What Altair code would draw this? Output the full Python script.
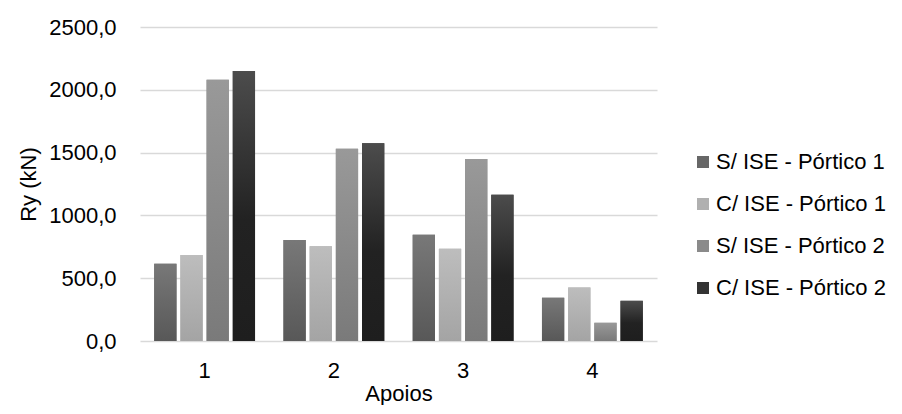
import altair as alt
import pandas as pd

apoios = ["1", "2", "3", "4"]
series = ["S/ ISE - Pórtico 1", "C/ ISE - Pórtico 1", "S/ ISE - Pórtico 2", "C/ ISE - Pórtico 2"]
s_ise_p1 = [615, 805, 845, 345]
c_ise_p1 = [685, 755, 735, 425]
s_ise_p2 = [2080, 1530, 1450, 145]
c_ise_p2 = [2150, 1575, 1165, 320]
y_ticks = [0, 500, 1000, 1500, 2000, 2500]

legend_colors = ["#676767", "#b0b0b0", "#8a8a8a", "#333333"]
grad_stops = [
    [(0, "#787878"), (1, "#585858")],
    [(0, "#bdbdbd"), (1, "#a4a4a4")],
    [(0, "#999999"), (1, "#7a7a7a")],
    [(0, "#4c4c4c"), (0.55, "#222222"), (1, "#1e1e1e")],
]

rows = []
for name, vals in zip(series, [s_ise_p1, c_ise_p1, s_ise_p2, c_ise_p2]):
    for a, v in zip(apoios, vals):
        rows.append({"Apoio": a, "Serie": name, "Ry": v})
df = pd.DataFrame(rows)

FONT = "Liberation Sans"

x_enc = alt.X(
    "Apoio:N",
    sort=apoios,
    scale=alt.Scale(domain=apoios, paddingInner=0.22, paddingOuter=0.11),
    axis=alt.Axis(title="Apoios", labelAngle=0, grid=False, labelPadding=19,
                  titleY=59, titleBaseline="alphabetic"),
)
xoff_enc = alt.XOffset(
    "Serie:N",
    sort=series,
    scale=alt.Scale(domain=series, paddingInner=0.15, paddingOuter=0),
)
y_enc = alt.Y(
    "Ry:Q",
    scale=alt.Scale(domain=[0, 2500]),
    axis=alt.Axis(
        title="Ry (kN)",
        values=y_ticks,
        labelExpr="replace(format(datum.value, '.1f'), '.', ',')",
        labelPadding=24,
        grid=True,
        gridColor="#d9d9d9",
        gridWidth=1.6,
        titleX=-105,
        titleY=157,
        titleBaseline="alphabetic",
    ),
)

base = alt.Chart(df).mark_bar().encode(
    x=x_enc,
    xOffset=xoff_enc,
    y=y_enc,
    color=alt.Color(
        "Serie:N",
        sort=series,
        scale=alt.Scale(domain=series, range=legend_colors),
        legend=alt.Legend(
            title=None,
            orient="none",
            legendX=552,
            legendY=124,
            symbolType="square",
            symbolSize=144,
            symbolStrokeWidth=0,
            labelFont=FONT,
            labelFontSize=22,
            labelColor="#000000",
            labelLimit=400,
            rowPadding=20,
            labelOffset=2,
        ),
    ),
)

layers = [base]
for name, stops in zip(series, grad_stops):
    grad = alt.LinearGradient(
        gradient="linear",
        stops=[alt.GradientStop(offset=o, color=c) for o, c in stops],
        x1=0, x2=0, y1=0, y2=1,
    )
    layers.append(
        alt.Chart(df)
        .transform_filter(alt.datum.Serie == name)
        .mark_bar(fill=grad)
        .encode(x=x_enc, xOffset=xoff_enc, y=y_enc)
    )

chart = (
    alt.layer(*layers)
    .properties(
        width=517,
        height=314,
        autosize=alt.AutoSizeParams(type="none"),
        padding={"left": 132, "top": 19, "right": 237, "bottom": 64},
    )
    .configure_axis(
        labelFont=FONT,
        titleFont=FONT,
        labelFontSize=22,
        titleFontSize=22,
        labelColor="#000000",
        titleColor="#000000",
        titleFontWeight="normal",
        domain=False,
        ticks=False,
        tickSize=0,
    )
    .configure_view(strokeWidth=0)
)

chart.save("out.html", embed_options={"renderer": "svg", "actions": False})
